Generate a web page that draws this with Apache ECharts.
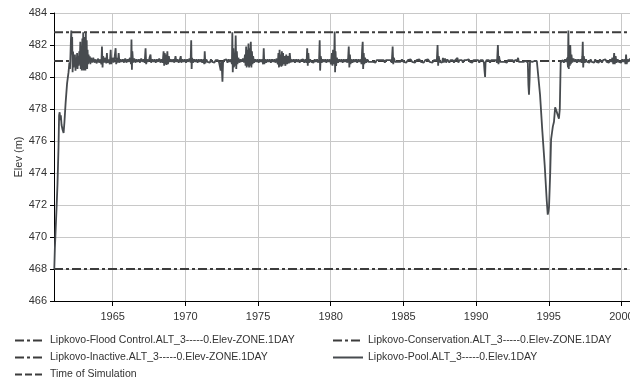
<!DOCTYPE html>
<html>
<head>
<meta charset="utf-8">
<script src="https://cdn.jsdelivr.net/npm/echarts@6/dist/echarts.min.js"></script>
<style>
html,body{margin:0;padding:0;background:#fff;}
#chart{width:630px;height:380px;}
</style>
</head>
<body>
<div id="chart"></div>
<script>
// ---- data ----
const yearTicks = [1965, 1970, 1975, 1980, 1985, 1990, 1995, 2000];
const periodYears = [1960.96, 2000.59];
const floodControlLevel = [482.8, 482.8];
const conservationLevel = [481.0, 481.0];
const inactiveLevel = [468.0, 468.0];
const seriesNames = [
  'Lipkovo-Flood Control.ALT_3-----0.Elev-ZONE.1DAY',
  'Lipkovo-Conservation.ALT_3-----0.Elev-ZONE.1DAY',
  'Lipkovo-Inactive.ALT_3-----0.Elev-ZONE.1DAY',
  'Lipkovo-Pool.ALT_3-----0.Elev.1DAY',
  'Time of Simulation'
];
const poolElev = [
[1960.98,468.0],[1961.02,469.3],[1961.06,469.3],[1961.08,470.6],[1961.12,470.7],[1961.14,471.9],[1961.18,472.0],[1961.20,473.3],[1961.24,473.4],[1961.27,475.6],[1961.31,477.6],[1961.35,477.8],[1961.39,477.3],[1961.43,477.6],[1961.48,477.0],[1961.55,476.7],[1961.62,476.5],[1961.68,477.2],[1961.76,478.4],[1961.86,479.6],[1961.96,480.3],[1962.02,480.9],[1962.06,480.5],
[1962.08,481.0],[1962.12,482.2],[1962.15,482.9],[1962.18,481.4],[1962.21,482.5],[1962.24,480.3],[1962.27,481.6],[1962.30,480.6],[1962.33,481.3],[1962.37,480.9],[1962.40,481.4],[1962.44,480.4],[1962.47,481.2],[1962.51,480.6],[1962.55,481.5],[1962.58,480.5],[1962.62,481.3],[1962.66,480.7],[1962.70,481.6],[1962.73,480.8],[1962.77,482.2],[1962.80,480.5],[1962.84,481.9],[1962.87,480.4],[1962.91,482.4],[1962.94,480.6],[1962.97,482.8],[1963.00,480.4],[1963.03,482.5],[1963.06,480.7],[1963.09,482.1],[1963.12,480.4],[1963.15,482.8],[1963.18,480.6],[1963.21,482.3],[1963.24,480.5],[1963.27,481.7],[1963.30,480.8],[1963.34,481.4],[1963.38,480.9],[1963.42,481.3],[1963.46,480.8],[1963.50,481.2],
[1963.58,480.9],[1963.66,481.2],[1963.74,480.9],[1963.82,481.1],[1963.90,480.85],[1963.98,481.15],[1964.06,480.9],[1964.14,481.1],[1964.22,480.8],[1964.26,481.9],[1964.30,480.6],[1964.34,481.3],[1964.42,480.9],[1964.50,481.2],[1964.56,480.85],[1964.60,481.5],[1964.64,480.9],[1964.72,481.1],[1964.80,480.8],[1964.86,481.7],[1964.90,480.8],[1964.98,481.2],[1965.06,480.9],[1965.14,481.3],[1965.20,481.8],[1965.24,480.8],[1965.30,481.2],[1965.36,480.9],[1965.41,481.5],[1965.46,480.9],[1965.54,481.1],[1965.62,480.95],[1965.70,481.1],[1965.78,480.9],[1965.86,481.15],[1965.94,480.9],[1966.02,481.1],[1966.10,480.95],[1966.18,481.2],[1966.26,480.8],[1966.29,482.35],[1966.32,480.45],[1966.35,481.6],[1966.40,480.9],[1966.48,481.15],[1966.56,480.9],[1966.64,481.1],[1966.72,480.95],[1966.80,481.1],[1966.88,480.9],[1966.96,481.15],[1967.04,480.95],[1967.12,481.1],[1967.20,480.9],[1967.26,481.8],[1967.30,480.8],[1967.36,481.1],[1967.44,480.95],[1967.52,481.15],[1967.60,481.4],[1967.64,480.9],[1967.72,481.1],[1967.80,480.95],[1967.88,481.1],[1967.96,480.9],[1968.04,481.1],[1968.12,480.95],[1968.20,481.15],[1968.28,480.9],[1968.36,481.1],[1968.44,480.9],[1968.50,481.6],[1968.54,480.7],[1968.58,481.5],[1968.62,480.8],[1968.66,481.4],[1968.70,480.75],[1968.76,481.6],[1968.80,480.8],[1968.86,481.3],[1968.92,480.95],[1969.00,481.1],[1969.08,480.95],[1969.16,481.1],[1969.24,480.9],[1969.32,481.3],[1969.38,480.95],[1969.46,481.1],[1969.54,480.9],[1969.62,481.1],[1969.68,481.3],[1969.72,480.9],[1969.80,481.1],[1969.88,480.95],[1969.96,481.1],
[1970.04,480.9],[1970.12,481.1],[1970.20,480.95],[1970.28,481.15],[1970.36,480.9],[1970.40,482.3],[1970.43,480.5],[1970.46,481.2],[1970.52,480.9],[1970.60,481.1],[1970.68,480.95],[1970.76,481.1],[1970.84,480.9],[1970.92,481.1],[1971.00,480.95],[1971.08,481.1],[1971.16,480.9],[1971.24,481.1],[1971.30,480.8],[1971.33,481.6],[1971.37,480.85],[1971.44,481.1],[1971.52,480.95],[1971.60,481.05],[1971.68,480.9],[1971.76,481.1],[1971.84,480.95],[1971.92,481.05],[1972.00,480.9],[1972.08,481.05],[1972.16,480.95],[1972.24,481.05],[1972.32,480.9],[1972.40,481.0],[1972.43,480.4],[1972.46,481.0],[1972.50,480.8],[1972.55,479.7],[1972.59,480.9],[1972.66,481.05],[1972.74,480.95],[1972.82,481.1],[1972.90,480.9],[1972.98,481.1],[1973.06,480.95],[1973.14,481.1],[1973.20,480.8],[1973.23,482.8],[1973.26,480.3],[1973.30,481.8],[1973.34,480.6],[1973.38,481.5],[1973.42,480.7],[1973.46,482.6],[1973.50,480.5],[1973.54,481.6],[1973.58,480.8],[1973.64,481.2],[1973.72,480.9],[1973.80,481.1],[1973.88,480.95],[1973.96,481.15],[1974.04,480.9],[1974.10,481.4],[1974.14,480.7],[1974.18,481.9],[1974.22,480.6],[1974.26,481.7],[1974.30,480.7],[1974.34,482.1],[1974.38,480.6],[1974.42,481.8],[1974.46,480.7],[1974.50,482.2],[1974.54,480.6],[1974.58,481.6],[1974.62,480.8],[1974.66,481.3],[1974.72,480.9],[1974.80,481.1],[1974.88,480.95],[1974.96,481.1],
[1975.04,480.9],[1975.12,481.1],[1975.20,480.95],[1975.28,481.1],[1975.35,480.8],[1975.39,481.8],[1975.43,480.8],[1975.48,481.1],[1975.56,480.9],[1975.64,481.1],[1975.72,480.95],[1975.80,481.1],[1975.88,480.9],[1975.96,481.1],[1976.04,480.95],[1976.12,481.1],[1976.20,480.9],[1976.28,481.15],[1976.36,480.8],[1976.40,481.5],[1976.44,480.6],[1976.48,481.7],[1976.52,480.7],[1976.56,481.4],[1976.60,480.65],[1976.64,481.6],[1976.68,480.7],[1976.72,481.5],[1976.76,480.8],[1976.82,481.3],[1976.88,480.7],[1976.94,481.4],[1977.00,480.8],[1977.06,481.3],[1977.12,480.85],[1977.18,481.5],[1977.24,480.9],[1977.30,481.1],[1977.38,480.95],[1977.46,481.1],[1977.54,480.9],[1977.62,481.1],[1977.70,480.95],[1977.78,481.1],[1977.86,480.9],[1977.94,481.05],[1978.02,480.95],[1978.10,481.1],[1978.18,480.9],[1978.26,481.1],[1978.34,480.9],[1978.38,481.8],[1978.42,480.7],[1978.46,481.5],[1978.50,480.9],[1978.58,481.1],[1978.66,480.95],[1978.74,481.05],[1978.82,480.9],[1978.90,481.1],[1978.98,480.95],[1979.06,481.1],[1979.14,480.9],[1979.20,481.1],[1979.24,482.3],[1979.27,480.4],[1979.31,481.3],[1979.38,480.9],[1979.46,481.1],[1979.54,480.95],[1979.62,481.1],[1979.70,480.9],[1979.78,481.1],[1979.86,480.95],[1979.94,481.1],
[1980.02,480.8],[1980.08,481.5],[1980.12,480.7],[1980.16,481.7],[1980.20,480.8],[1980.24,481.3],[1980.27,482.85],[1980.30,480.3],[1980.33,481.6],[1980.37,480.7],[1980.42,481.2],[1980.50,480.9],[1980.58,481.1],[1980.66,480.95],[1980.74,481.1],[1980.82,480.9],[1980.90,481.1],[1980.98,480.95],[1981.06,481.1],[1981.14,480.9],[1981.20,481.2],[1981.24,481.9],[1981.28,480.6],[1981.32,481.4],[1981.36,480.8],[1981.42,481.1],[1981.50,480.9],[1981.58,481.1],[1981.66,480.95],[1981.74,481.1],[1981.82,480.9],[1981.90,481.1],[1981.98,480.95],[1982.06,481.1],[1982.12,480.8],[1982.16,481.7],[1982.20,482.2],[1982.23,480.5],[1982.27,481.5],[1982.31,480.8],[1982.36,481.2],[1982.44,480.9],[1982.52,481.1],[1982.60,480.95],[1982.68,481.05],[1982.76,480.95],[1982.84,481.05],[1982.92,480.95],[1983.00,481.05],[1983.08,480.9],[1983.16,481.05],[1983.24,480.95],[1983.32,481.05],[1983.40,480.95],[1983.48,481.05],[1983.56,480.95],[1983.64,481.05],[1983.72,480.9],[1983.80,481.05],[1983.88,480.95],[1983.96,481.05],[1984.04,480.95],[1984.12,481.05],[1984.20,480.9],[1984.26,481.9],[1984.30,480.8],[1984.34,481.2],[1984.42,480.95],[1984.50,481.05],[1984.60,480.95],[1984.70,481.05],[1984.80,480.95],[1984.90,481.1],
[1985.00,480.95],[1985.10,481.05],[1985.20,480.9],[1985.30,481.05],[1985.40,480.95],[1985.50,481.1],[1985.60,480.95],[1985.70,481.05],[1985.80,480.9],[1985.90,481.05],[1986.00,480.95],[1986.10,481.1],[1986.20,480.95],[1986.30,481.05],[1986.40,480.9],[1986.50,481.05],[1986.60,480.95],[1986.70,481.1],[1986.80,480.95],[1986.90,481.05],[1987.00,480.9],[1987.10,481.05],[1987.20,480.95],[1987.30,481.05],[1987.35,482.0],[1987.39,480.7],[1987.43,481.3],[1987.50,480.95],[1987.58,481.05],[1987.66,480.9],[1987.72,481.2],[1987.78,480.9],[1987.86,481.15],[1987.94,480.9],[1988.02,481.1],[1988.10,481.2],[1988.16,480.9],[1988.24,481.05],[1988.32,480.95],[1988.40,481.05],[1988.48,480.9],[1988.56,481.05],[1988.64,480.95],[1988.72,481.2],[1988.78,480.9],[1988.86,481.05],[1988.94,480.95],[1989.02,481.05],[1989.10,480.9],[1989.18,481.05],[1989.26,480.95],[1989.34,481.05],[1989.42,480.95],[1989.50,481.1],[1989.58,480.95],[1989.66,481.05],[1989.74,480.9],[1989.82,481.05],[1989.90,480.95],[1989.98,481.05],
[1990.06,480.95],[1990.14,481.05],[1990.22,480.9],[1990.30,481.05],[1990.38,480.95],[1990.46,481.05],[1990.54,480.9],[1990.58,480.4],[1990.62,480.0],[1990.65,480.9],[1990.72,481.05],[1990.80,480.95],[1990.88,481.05],[1990.96,480.9],[1991.04,481.05],[1991.12,480.95],[1991.20,481.05],[1991.28,480.95],[1991.36,481.05],[1991.44,480.9],[1991.50,482.0],[1991.54,480.8],[1991.58,481.3],[1991.64,480.95],[1991.72,481.05],[1991.80,480.95],[1991.88,481.05],[1991.96,480.95],[1992.04,481.05],[1992.12,480.9],[1992.20,481.05],[1992.28,480.95],[1992.36,481.05],[1992.44,480.95],[1992.52,481.05],[1992.60,480.9],[1992.68,481.05],[1992.76,480.95],[1992.84,481.05],[1992.89,481.2],[1992.94,480.95],[1993.02,481.05],[1993.10,480.95],[1993.18,481.05],[1993.26,480.95],[1993.34,481.05],[1993.42,481.0],[1993.50,481.05],[1993.56,480.9],[1993.60,479.5],[1993.64,478.9],[1993.68,479.8],[1993.71,481.0],[1993.78,481.05],[1993.86,480.95],[1993.94,481.05],[1994.02,481.0],[1994.10,481.05],[1994.18,481.0],
[1994.24,481.0],[1994.40,478.9],[1994.56,476.6],[1994.72,474.5],[1994.86,472.3],[1994.93,471.4],[1994.98,471.6],[1995.02,471.9],[1995.10,474.0],[1995.16,476.1],[1995.22,476.5],[1995.28,476.9],[1995.36,477.2],[1995.44,478.1],[1995.52,477.9],[1995.62,477.8],[1995.70,477.4],[1995.76,478.0],[1995.82,480.9],[1995.90,481.0],
[1995.96,481.05],[1996.04,480.9],[1996.12,481.1],[1996.20,480.95],[1996.28,481.2],[1996.32,480.6],[1996.35,482.9],[1996.38,480.5],[1996.42,481.8],[1996.45,480.7],[1996.48,482.0],[1996.52,480.8],[1996.56,481.4],[1996.62,480.9],[1996.70,481.15],[1996.78,480.95],[1996.86,481.1],[1996.94,480.9],[1997.02,481.1],[1997.10,480.95],[1997.18,481.1],[1997.26,480.9],[1997.31,481.3],[1997.34,482.2],[1997.37,480.6],[1997.41,481.3],[1997.48,480.9],[1997.56,481.1],[1997.64,480.95],[1997.72,481.05],[1997.80,480.9],[1997.88,481.1],[1997.96,480.95],[1998.04,481.05],[1998.12,480.9],[1998.20,481.1],[1998.28,480.95],[1998.36,481.05],[1998.44,480.9],[1998.52,481.1],[1998.60,481.2],[1998.66,480.9],[1998.74,481.05],[1998.82,480.95],[1998.90,481.1],[1998.98,480.95],[1999.06,481.05],[1999.14,480.9],[1999.22,481.1],[1999.30,480.95],[1999.38,481.2],[1999.44,480.8],[1999.50,481.5],[1999.54,480.8],[1999.60,481.3],[1999.66,480.9],[1999.74,481.1],[1999.82,480.95],[1999.90,481.05],[1999.98,480.9],[2000.06,481.1],[2000.14,480.95],[2000.22,481.1],[2000.28,480.8],[2000.32,481.4],[2000.36,480.8],[2000.42,481.1],[2000.50,480.95],[2000.58,481.15],[2000.66,481.0]
];
const timeOfSimulation = [];

// ---- chart ----
const FONT = 'Liberation Sans, Arial, sans-serif';
const TXT = '#333';
const zoneStyle = { color: '#3c3c3c', width: 2, type: [9, 3, 3, 3] };
function levelData(levels) { return periodYears.map((x, i) => [x, levels[i]]); }

const legendCommon = {
  orient: 'vertical', top: 335, padding: 0,
  itemWidth: 30, itemHeight: 11, itemGap: 6,
  itemStyle: { opacity: 0 },
  textStyle: { color: TXT, fontFamily: FONT, fontSize: 10.5, lineHeight: 11 }
};

const chart = echarts.init(document.getElementById('chart'), null, { renderer: 'canvas' });
chart.setOption({
  animation: false,
  backgroundColor: '#fff',
  grid: { left: 54, top: 13, right: 0, height: 288, outerBoundsMode: 'none', containLabel: false },
  xAxis: {
    type: 'value',
    min: periodYears[0], max: periodYears[1],
    axisLine: { show: true, onZero: false, lineStyle: { color: '#000', width: 1 } },
    axisTick: { show: true, length: 5, customValues: yearTicks, lineStyle: { color: '#000' } },
    axisLabel: { customValues: yearTicks, margin: 10, color: TXT, fontFamily: FONT, fontSize: 11, formatter: v => String(Math.round(v)) },
    splitLine: { show: true, lineStyle: { color: '#c8c8c8', width: 1 } }
  },
  yAxis: {
    type: 'value',
    min: 466, max: 484, interval: 2,
    name: 'Elev (m)', nameLocation: 'middle', nameGap: 30, nameMoveOverlap: false,
    nameTextStyle: { color: TXT, fontFamily: FONT, fontSize: 11 },
    axisLine: { show: true, lineStyle: { color: '#000', width: 1 } },
    axisTick: { show: true, length: 4, lineStyle: { color: '#000' } },
    axisLabel: { margin: 7, color: TXT, fontFamily: FONT, fontSize: 11 },
    splitLine: { show: true, lineStyle: { color: '#c8c8c8', width: 1 } }
  },
  legend: [
    Object.assign({ data: [seriesNames[0], seriesNames[2], seriesNames[4]], left: 14 }, legendCommon),
    Object.assign({ data: [seriesNames[1], seriesNames[3]], left: 332 }, legendCommon)
  ],
  series: [
    { name: seriesNames[0], type: 'line', data: levelData(floodControlLevel), symbol: 'none', lineStyle: zoneStyle, itemStyle: { color: '#3c3c3c' } },
    { name: seriesNames[1], type: 'line', data: levelData(conservationLevel), symbol: 'none', lineStyle: zoneStyle, itemStyle: { color: '#3c3c3c' } },
    { name: seriesNames[2], type: 'line', data: levelData(inactiveLevel), symbol: 'none', lineStyle: zoneStyle, itemStyle: { color: '#3c3c3c' } },
    { name: seriesNames[3], type: 'line', data: poolElev, symbol: 'none', lineStyle: { color: '#474b4f', width: 1.8 }, itemStyle: { color: '#474b4f' }, z: 3 },
    { name: seriesNames[4], type: 'line', data: timeOfSimulation, symbol: 'none', lineStyle: { color: '#3c3c3c', width: 1.5, type: [7, 3] }, itemStyle: { color: '#3c3c3c' } }
  ]
});
</script>
</body>
</html>
